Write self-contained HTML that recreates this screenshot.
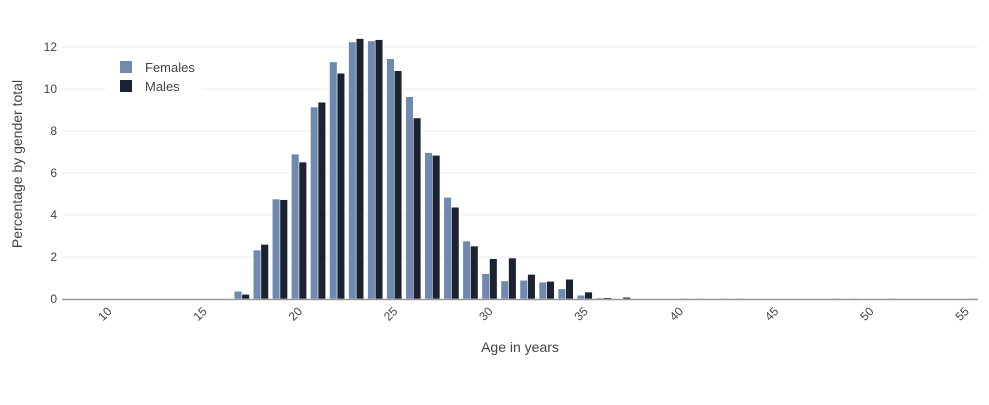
<!DOCTYPE html>
<html><head><meta charset="utf-8"><style>
body{margin:0;background:#fff;font-family:"Liberation Sans",sans-serif;}
svg text{font-family:"Liberation Sans",sans-serif;}
</style></head><body>
<svg id="chart" width="989" height="400" xmlns="http://www.w3.org/2000/svg">
<g id="grid"></g><g id="bars"></g><g id="axes"></g>
<text transform="translate(22,164) rotate(-90)" text-anchor="middle" font-size="14" fill="#444">Percentage by gender total</text>
<text x="520" y="352" text-anchor="middle" font-size="14" fill="#444">Age in years</text>
<g>
<rect x="106" y="56" width="96" height="40" fill="#fff"/>
<g><rect x="120" y="61" width="12" height="12" fill="#7089ae"/><text x="145" y="72" font-size="13" fill="#444">Females</text></g>
<g><rect x="120" y="80" width="12" height="12" fill="#1c2330"/><text x="145" y="91" font-size="13" fill="#444">Males</text></g>
</g>
</svg>
<script>
const ages=[17,18,19,20,21,22,23,24,25,26,27,28,29,30,31,32,33,34,35,36,37,38,40,41,42,43,48,49,51,55];
const females=[0.37,2.33,4.76,6.9,9.14,11.29,12.24,12.29,11.44,9.63,6.97,4.84,2.76,1.21,0.86,0.89,0.8,0.48,0.18,0.05,0.02,0.01,0,0,0,0,0,0,0,0];
const males=[0.22,2.6,4.73,6.52,9.37,10.75,12.4,12.35,10.87,8.62,6.84,4.37,2.52,1.92,1.95,1.17,0.84,0.94,0.33,0.06,0.08,0,0.02,0.02,0.02,0.02,0.02,0.02,0.02,0.02];
const xTicks=[10,15,20,25,30,35,40,45,50,55];
const yTicks=[0,2,4,6,8,10,12];
const NS="http://www.w3.org/2000/svg";
const X=a=>299+(a-20)*19.05, Y=v=>299-v*21;
const L=62,R=978;
function mk(t,attrs,parent){const e=document.createElementNS(NS,t);for(const k in attrs)e.setAttribute(k,attrs[k]);parent.appendChild(e);return e;}
const grid=document.getElementById('grid'),bars=document.getElementById('bars'),axes=document.getElementById('axes');
yTicks.forEach(v=>{
 if(v>0){const g=mk('line',{x1:L,x2:R,y1:Y(v),y2:Y(v),stroke:'#eee','stroke-width':1},grid);
 
 }
 const t=mk('text',{x:57,y:Y(v)+4,'text-anchor':'end','font-size':12,fill:'#444'},axes);t.textContent=v;
 
 
});
const bw=7.6;
ages.forEach((a,i)=>{
 const cx=X(a);
 if(females[i]>0){const r=mk('rect',{x:cx-bw,y:Y(females[i]),width:bw,height:females[i]*21,fill:'#7089ae',stroke:'#fff','stroke-width':0.5},bars);
 
 }
 if(males[i]>0){const r=mk('rect',{x:cx,y:Y(males[i]),width:bw,height:Math.max(males[i]*21,1),fill:'#1c2330',stroke:'#fff','stroke-width':0.5},bars);
 
 }
});
const ax=mk('line',{x1:L,x2:R,y1:299.5,y2:299.5,stroke:'#999','stroke-width':1.5},axes);


xTicks.forEach(v=>{
 const t=mk('text',{transform:`translate(${X(v)+4},${312}) rotate(-45)`,'text-anchor':'end','font-size':12,fill:'#444'},axes);t.textContent=v;
 
 
});
</script>
</body></html>
